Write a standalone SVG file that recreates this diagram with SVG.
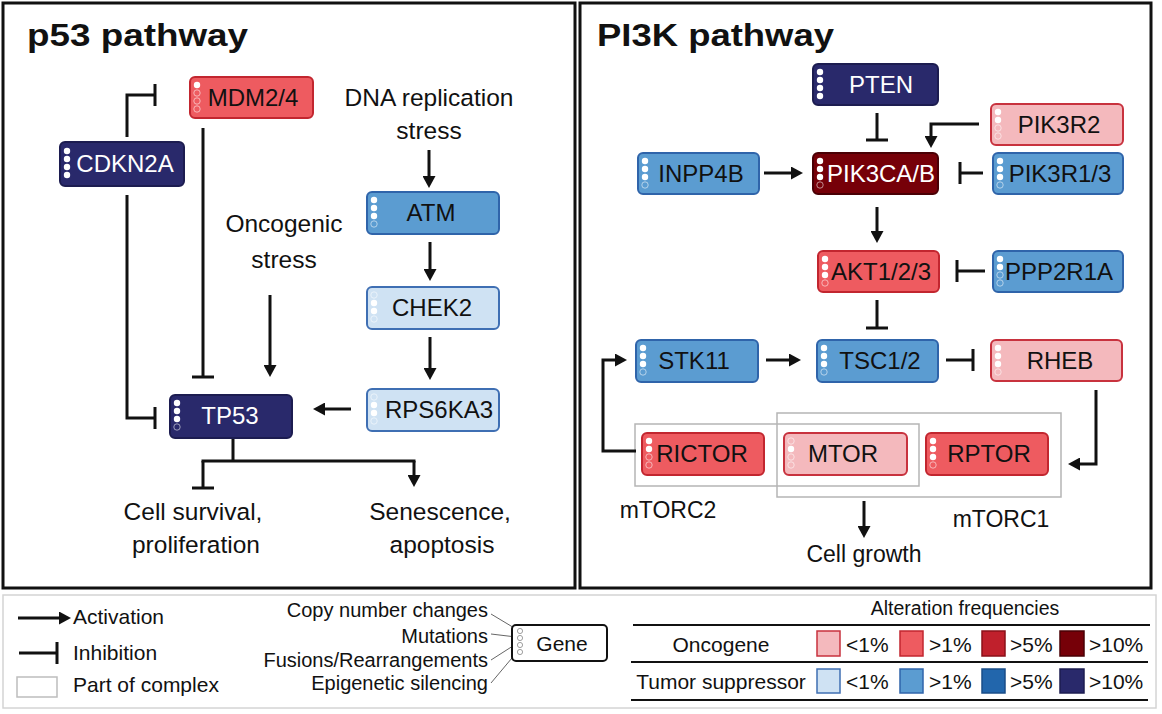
<svg xmlns="http://www.w3.org/2000/svg" width="1162" height="714" viewBox="0 0 1162 714">
<style>
text{font-family:"Liberation Sans",Arial,sans-serif;fill:#111}
.title{font-size:32px;font-weight:bold}
.lbl{font-size:24.5px;text-anchor:middle}
.nt{font-size:24px;text-anchor:middle}
.w{fill:#fff}
.node rect.b{stroke-width:2}
.on1{fill:#f4b9bd;stroke:#c8323e}
.on2{fill:#ee5b60;stroke:#c2262f}
.on3{fill:#c0202c;stroke:#8a1019}
.on4{fill:#760008;stroke:#4a0005}
.ts1{fill:#cfe2f3;stroke:#3f6fb3}
.ts2{fill:#5b9cd1;stroke:#2f64aa}
.ts3{fill:#2266ac;stroke:#1a4d88}
.ts4{fill:#29296b;stroke:#1c1c50}
.df{fill:#fff}
.de{fill:none;stroke:#fff;stroke-width:0.9;opacity:0.6}
.con path{fill:none;stroke:#111;stroke-width:3}
.act{marker-end:url(#arrow)}
.inh{marker-end:url(#tbar)}
.cx{fill:none;stroke:#b5b5b5;stroke-width:1.5}
.panel{fill:none;stroke:#111;stroke-width:3}
.leg{font-size:21px}
.legs{font-size:20px;text-anchor:end}
.lead{stroke:#666;stroke-width:1;fill:none}
.rule{stroke:#111;stroke-width:2}
</style>
<defs>
<marker id="arrow" markerUnits="userSpaceOnUse" viewBox="0 0 12 13" refX="4" refY="6.5" markerWidth="12" markerHeight="13" orient="auto">
<path d="M0,0 L12,6.5 L0,13 z" fill="#111"/>
</marker>
<marker id="tbar" markerUnits="userSpaceOnUse" viewBox="-2 -12 4 24" refX="0" refY="0" markerWidth="4" markerHeight="24" orient="auto">
<rect x="-1.5" y="-11" width="3" height="22" fill="#111"/>
</marker>
</defs>
<rect width="1162" height="714" fill="#fff"/>

<!-- panels -->
<rect class="panel" x="3" y="3" width="572" height="585"/>
<rect class="panel" x="580" y="3" width="571" height="585"/>
<text class="title" x="27" y="46" textLength="221" lengthAdjust="spacingAndGlyphs">p53 pathway</text>
<text class="title" x="597" y="46" textLength="237" lengthAdjust="spacingAndGlyphs">PI3K pathway</text>

<!-- complex boxes -->
<g id="complex-mTORC2"><rect class="cx" x="635" y="424" width="284" height="62"/><text class="lbl" x="668" y="518" style="font-size:23px">mTORC2</text></g>
<g id="complex-mTORC1"><rect class="cx" x="777" y="413" width="284" height="84"/><text class="lbl" x="1001" y="527" style="font-size:23px">mTORC1</text></g>

<!-- connectors -->
<g id="connectors" class="con">
<path class="act" d="M429,150 V180"/>
<path class="act" d="M430,242 V273"/>
<path class="act" d="M430,337 V372"/>
<path class="act" d="M351,409 H321"/>
<path class="act" d="M270,295 V369"/>
<path class="inh" d="M203,128 V377"/>
<path class="inh" d="M127,137 V95 H155"/>
<path class="inh" d="M127,195 V418 H155"/>
<path d="M233,438 V461 M201.5,461 H415.5"/>
<path class="inh" d="M203,461 V488"/>
<path class="act" d="M414,461 V479"/>
<path class="inh" d="M877,113 V140"/>
<path class="act" d="M979,124 H931 V140"/>
<path class="act" d="M764,173 H795"/>
<path class="inh" d="M983,173 H960"/>
<path class="act" d="M877,207 V235"/>
<path class="inh" d="M985,271 H957"/>
<path class="inh" d="M877,300 V328"/>
<path class="act" d="M766,360 H793"/>
<path class="inh" d="M946,360 H973"/>
<path class="act" d="M1096,390 V464 H1076"/>
<path class="act" d="M636,451 H603 V360 H619"/>
<path class="act" d="M864,501 V530"/>
</g>

<!-- free labels -->
<g id="labels">
<text class="lbl" x="429" y="106">DNA replication</text>
<text class="lbl" x="429" y="139">stress</text>
<text class="lbl" x="284" y="232">Oncogenic</text>
<text class="lbl" x="284" y="268">stress</text>
<text class="lbl" x="193" y="520">Cell survival,</text>
<text class="lbl" x="196" y="553">proliferation</text>
<text class="lbl" x="440" y="520">Senescence,</text>
<text class="lbl" x="442" y="553">apoptosis</text>
<text class="lbl" x="864" y="562" style="font-size:23px">Cell growth</text>
</g>

<!-- p53 nodes -->
<g id="MDM2-4" class="node"><rect class="b on2" x="190" y="77" width="123" height="41" rx="5"/>
<circle class="df" cx="197" cy="85" r="3.2"/><circle class="de" cx="197" cy="93" r="3.2"/><circle class="de" cx="197" cy="101" r="3.2"/><circle class="de" cx="197" cy="109" r="3.2"/>
<text class="nt" x="253" y="106">MDM2/4</text></g>
<g id="CDKN2A" class="node"><rect class="b ts4" x="60" y="142" width="124" height="44" rx="5"/>
<circle class="df" cx="67" cy="151" r="3.2"/><circle class="df" cx="67" cy="159" r="3.2"/><circle class="df" cx="67" cy="167" r="3.2"/><circle class="df" cx="67" cy="175" r="3.2"/>
<text class="nt w" x="125" y="172">CDKN2A</text></g>
<g id="ATM" class="node"><rect class="b ts2" x="367" y="192" width="132" height="42" rx="5"/>
<circle class="df" cx="374" cy="200" r="3.2"/><circle class="df" cx="374" cy="208" r="3.2"/><circle class="df" cx="374" cy="216" r="3.2"/><circle class="de" cx="374" cy="224" r="3.2"/>
<text class="nt" x="431" y="221">ATM</text></g>
<g id="CHEK2" class="node"><rect class="b ts1" x="367" y="287" width="132" height="42" rx="5"/>
<circle class="de" cx="374" cy="295" r="3.2"/><circle class="df" cx="374" cy="303" r="3.2"/><circle class="df" cx="374" cy="311" r="3.2"/><circle class="de" cx="374" cy="319" r="3.2"/>
<text class="nt" x="432" y="316">CHEK2</text></g>
<g id="RPS6KA3" class="node"><rect class="b ts1" x="367" y="389" width="132" height="42" rx="5"/>
<circle class="de" cx="374" cy="397" r="3.2"/><circle class="df" cx="374" cy="405" r="3.2"/><circle class="df" cx="374" cy="413" r="3.2"/><circle class="de" cx="374" cy="421" r="3.2"/>
<text class="nt" x="439" y="418">RPS6KA3</text></g>
<g id="TP53" class="node"><rect class="b ts4" x="170" y="395" width="122" height="43" rx="5"/>
<circle class="df" cx="177" cy="403" r="3.2"/><circle class="df" cx="177" cy="411" r="3.2"/><circle class="df" cx="177" cy="419" r="3.2"/><circle class="de" cx="177" cy="427" r="3.2"/>
<text class="nt w" x="230" y="424">TP53</text></g>

<!-- PI3K nodes -->
<g id="PTEN" class="node"><rect class="b ts4" x="813" y="64" width="125" height="41" rx="5"/>
<circle class="df" cx="820" cy="72" r="3.2"/><circle class="df" cx="820" cy="80" r="3.2"/><circle class="df" cx="820" cy="88" r="3.2"/><circle class="df" cx="820" cy="96" r="3.2"/>
<text class="nt w" x="881" y="93">PTEN</text></g>
<g id="PIK3R2" class="node"><rect class="b on1" x="991" y="104" width="132" height="41" rx="5"/>
<circle class="df" cx="998" cy="112" r="3.2"/><circle class="df" cx="998" cy="120" r="3.2"/><circle class="de" cx="998" cy="128" r="3.2"/><circle class="de" cx="998" cy="136" r="3.2"/>
<text class="nt" x="1059" y="133">PIK3R2</text></g>
<g id="INPP4B" class="node"><rect class="b ts2" x="638" y="153" width="121" height="41" rx="5"/>
<circle class="df" cx="645" cy="161" r="3.2"/><circle class="df" cx="645" cy="169" r="3.2"/><circle class="df" cx="645" cy="177" r="3.2"/><circle class="de" cx="645" cy="185" r="3.2"/>
<text class="nt" x="701" y="182">INPP4B</text></g>
<g id="PIK3CA-B" class="node"><rect class="b on4" x="813" y="153" width="125" height="41" rx="5"/>
<circle class="df" cx="820" cy="161" r="3.2"/><circle class="df" cx="820" cy="169" r="3.2"/><circle class="df" cx="820" cy="177" r="3.2"/><circle class="de" cx="820" cy="185" r="3.2"/>
<text class="nt w" x="881" y="182">PIK3CA/B</text></g>
<g id="PIK3R1-3" class="node"><rect class="b ts2" x="993" y="153" width="130" height="41" rx="5"/>
<circle class="df" cx="1000" cy="161" r="3.2"/><circle class="df" cx="1000" cy="169" r="3.2"/><circle class="df" cx="1000" cy="177" r="3.2"/><circle class="de" cx="1000" cy="185" r="3.2"/>
<text class="nt" x="1060" y="182">PIK3R1/3</text></g>
<g id="AKT1-2-3" class="node"><rect class="b on2" x="818" y="251" width="121" height="41" rx="5"/>
<circle class="df" cx="825" cy="259" r="3.2"/><circle class="df" cx="825" cy="267" r="3.2"/><circle class="df" cx="825" cy="275" r="3.2"/><circle class="de" cx="825" cy="283" r="3.2"/>
<text class="nt" x="881" y="280">AKT1/2/3</text></g>
<g id="PPP2R1A" class="node"><rect class="b ts2" x="993" y="251" width="130" height="41" rx="5"/>
<circle class="df" cx="1000" cy="259" r="3.2"/><circle class="df" cx="1000" cy="267" r="3.2"/><circle class="de" cx="1000" cy="275" r="3.2"/><circle class="de" cx="1000" cy="283" r="3.2"/>
<text class="nt" x="1059" y="280">PPP2R1A</text></g>
<g id="STK11" class="node"><rect class="b ts2" x="636" y="340" width="122" height="42" rx="5"/>
<circle class="df" cx="643" cy="348" r="3.2"/><circle class="df" cx="643" cy="356" r="3.2"/><circle class="df" cx="643" cy="364" r="3.2"/><circle class="de" cx="643" cy="372" r="3.2"/>
<text class="nt" x="694" y="369">STK11</text></g>
<g id="TSC1-2" class="node"><rect class="b ts2" x="817" y="340" width="121" height="42" rx="5"/>
<circle class="df" cx="824" cy="348" r="3.2"/><circle class="df" cx="824" cy="356" r="3.2"/><circle class="df" cx="824" cy="364" r="3.2"/><circle class="de" cx="824" cy="372" r="3.2"/>
<text class="nt" x="880" y="369">TSC1/2</text></g>
<g id="RHEB" class="node"><rect class="b on1" x="991" y="340" width="131" height="41" rx="5"/>
<circle class="df" cx="998" cy="348" r="3.2"/><circle class="df" cx="998" cy="356" r="3.2"/><circle class="df" cx="998" cy="364" r="3.2"/><circle class="de" cx="998" cy="372" r="3.2"/>
<text class="nt" x="1060" y="369">RHEB</text></g>
<g id="RICTOR" class="node"><rect class="b on2" x="642" y="433" width="122" height="42" rx="5"/>
<circle class="df" cx="649" cy="441" r="3.2"/><circle class="df" cx="649" cy="449" r="3.2"/><circle class="de" cx="649" cy="457" r="3.2"/><circle class="de" cx="649" cy="465" r="3.2"/>
<text class="nt" x="702" y="462">RICTOR</text></g>
<g id="MTOR" class="node"><rect class="b on1" x="784" y="433" width="123" height="42" rx="5"/>
<circle class="de" cx="791" cy="441" r="3.2"/><circle class="df" cx="791" cy="449" r="3.2"/><circle class="de" cx="791" cy="457" r="3.2"/><circle class="de" cx="791" cy="465" r="3.2"/>
<text class="nt" x="843" y="462">MTOR</text></g>
<g id="RPTOR" class="node"><rect class="b on2" x="926" y="433" width="122" height="42" rx="5"/>
<circle class="df" cx="933" cy="441" r="3.2"/><circle class="df" cx="933" cy="449" r="3.2"/><circle class="df" cx="933" cy="457" r="3.2"/><circle class="de" cx="933" cy="465" r="3.2"/>
<text class="nt" x="989" y="462">RPTOR</text></g>

<!-- legend -->
<g id="legend">
<rect x="3" y="595" width="1153" height="113" fill="none" stroke="#d4d4d4" stroke-width="1.5"/>
<g class="con"><path class="act" d="M18,618 H63"/><path class="inh" d="M19,653 H57"/></g>
<rect x="17" y="677" width="40" height="20" fill="none" stroke="#bdbdbd" stroke-width="1.5"/>
<text class="leg" x="73" y="624">Activation</text>
<text class="leg" x="73" y="660">Inhibition</text>
<text class="leg" x="73" y="692">Part of complex</text>
<text class="legs" x="488" y="617">Copy number changes</text>
<text class="legs" x="488" y="643">Mutations</text>
<text class="legs" x="488" y="667">Fusions/Rearrangements</text>
<text class="legs" x="488" y="690">Epigenetic silencing</text>
<path class="lead" d="M491,614 L516,629 M491,634 L516,637 M491,660 L516,644 M491,683 L517,652"/>
<rect x="512" y="625" width="95" height="36" rx="4" fill="#fff" stroke="#111" stroke-width="2"/>
<circle cx="520" cy="631" r="2.6" fill="none" stroke="#888" stroke-width="0.8"/>
<circle cx="520" cy="638" r="2.6" fill="none" stroke="#888" stroke-width="0.8"/>
<circle cx="520" cy="645" r="2.6" fill="none" stroke="#888" stroke-width="0.8"/>
<circle cx="520" cy="652" r="2.6" fill="none" stroke="#888" stroke-width="0.8"/>
<text x="562" y="651" style="font-size:21px;text-anchor:middle">Gene</text>

<text x="965" y="615" style="font-size:19.5px;text-anchor:middle">Alteration frequencies</text>
<line class="rule" x1="633" y1="625" x2="1150" y2="625"/>
<line class="rule" x1="631" y1="662" x2="1148" y2="662"/>
<line class="rule" x1="631" y1="700" x2="1148" y2="700"/>
<text x="721" y="652" style="font-size:21px;text-anchor:middle">Oncogene</text>
<text x="721" y="689" style="font-size:21px;text-anchor:middle">Tumor suppressor</text>
<rect class="on1" x="817" y="631" width="23" height="25" stroke-width="1.5"/>
<rect class="on2" x="900" y="631" width="23" height="25" stroke-width="1.5"/>
<rect class="on3" x="982" y="631" width="23" height="25" stroke-width="1.5"/>
<rect class="on4" x="1060" y="631" width="24" height="25" stroke-width="1.5"/>
<rect class="ts1" x="817" y="669" width="23" height="24" stroke-width="1.5"/>
<rect class="ts2" x="900" y="669" width="23" height="24" stroke-width="1.5"/>
<rect class="ts3" x="982" y="669" width="23" height="24" stroke-width="1.5"/>
<rect class="ts4" x="1060" y="669" width="24" height="24" stroke-width="1.5"/>
<g style="font-size:21px">
<text x="846" y="652">&lt;1%</text><text x="929" y="652">&gt;1%</text><text x="1010" y="652">&gt;5%</text><text x="1089" y="652">&gt;10%</text>
<text x="846" y="689">&lt;1%</text><text x="929" y="689">&gt;1%</text><text x="1010" y="689">&gt;5%</text><text x="1089" y="689">&gt;10%</text>
</g>
</g>
</svg>
